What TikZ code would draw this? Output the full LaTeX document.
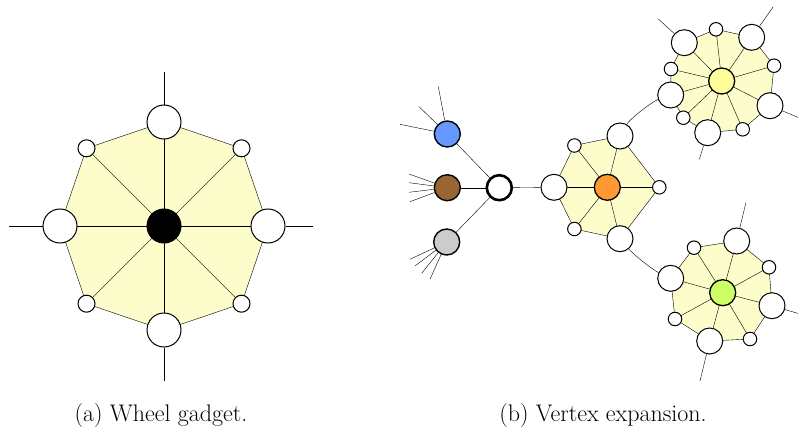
\documentclass[tikz,border=0pt]{standalone}
\pgfdeclarelayer{bg}
\pgfsetlayers{bg,main}
\definecolor{wfill}{RGB}{253,253,204}
\definecolor{nblue}{RGB}{102,153,255}
\definecolor{nbrown}{RGB}{153,102,51}
\definecolor{ngray}{RGB}{204,204,204}
\definecolor{norange}{RGB}{255,153,51}
\definecolor{nyellow}{RGB}{255,255,153}
\definecolor{ngreen}{RGB}{204,255,102}
\begin{document}
\begin{tikzpicture}[x=1pt,y=-1pt,line width=1pt,
  v/.style={circle,draw,fill=white,inner sep=0pt,line width=1pt},
  bigA/.style={v,minimum size=34pt},
  smallA/.style={v,minimum size=17pt},
  bigB/.style={v,minimum size=26pt},
  smallB/.style={v,minimum size=13.5pt},
  hub/.style={v,minimum size=26pt,line width=1.3pt},
  leaf/.style={v,minimum size=26pt,line width=1.4pt},
  caption/.style={font=\fontsize{24}{28}\selectfont,anchor=base}]
\useasboundingbox (0,0) rectangle (798,428);

% ---------- (a) wheel gadget ----------
\node[v,fill=black,minimum size=34pt] (c) at (164,226) {};
\node[bigA]   (a1) at (164,122) {};
\node[smallA] (a2) at (241.5,148.3) {};
\node[bigA]   (a3) at (268,226) {};
\node[smallA] (a4) at (241.5,303.7) {};
\node[bigA]   (a5) at (164,330) {};
\node[smallA] (a6) at (86.5,303.7) {};
\node[bigA]   (a7) at (60,226) {};
\node[smallA] (a8) at (86.5,148.3) {};
\coordinate (ta1) at (164,72);
\coordinate (ta3) at (313,226);
\coordinate (ta5) at (164,381);
\coordinate (ta7) at (9,226);
\begin{pgfonlayer}{bg}
\fill[wfill] (a1.center)--(a2.center)--(a3.center)--(a4.center)--(a5.center)--(a6.center)--(a7.center)--(a8.center)--cycle;
\draw (a1.center)--(a2.center)--(a3.center)--(a4.center)--(a5.center)--(a6.center)--(a7.center)--(a8.center)--cycle;
\foreach \i in {1,...,8} \draw (c.center)--(a\i.center);
\foreach \i in {1,3,5,7} \draw (a\i)--(ta\i);
\end{pgfonlayer}

% ---------- (b) vertex expansion ----------
\node[v,line width=2.6pt,minimum size=25pt] (w) at (499.3,187.7) {};
\node[leaf,fill=nblue]  (nb) at (447.3,134) {};
\node[leaf,fill=nbrown] (nr) at (447.3,187.7) {};
\node[leaf,fill=ngray]  (ng) at (446.7,242) {};
\coordinate (b1) at (438.3,86.7);
\coordinate (b2) at (419,106.7);
\coordinate (b3) at (400,124.3);
\coordinate (r1) at (409,174);
\coordinate (r2) at (409,182.7);
\coordinate (r3) at (409,192.3);
\coordinate (r4) at (410,201.7);
\coordinate (g1) at (410,259.3);
\coordinate (g2) at (415,266);
\coordinate (g3) at (421.7,273.3);
\coordinate (g4) at (430,279.3);

% orange wheel
\node[hub,fill=norange] (o) at (607.3,187.3) {};
\node[bigB]   (o1) at (554,187.3) {};
\node[smallB] (o2) at (574.4,145.5) {};
\node[bigB]   (o3) at (620,136) {};
\node[smallB] (o4) at (659.3,187.3) {};
\node[bigB]   (o5) at (620,238.7) {};
\node[smallB] (o6) at (574.4,229) {};

% yellow wheel
\node[hub,fill=nyellow] (y) at (721.7,81) {};
\node[bigB]   (y1) at (684.3,42.7) {};
\node[smallB] (y2) at (716,29.3) {};
\node[bigB]   (y3) at (751.7,37.3) {};
\node[smallB] (y4) at (774,65.7) {};
\node[bigB]   (y5) at (770,105.7) {};
\node[smallB] (y6) at (742.7,129.3) {};
\node[bigB]   (y7) at (707.7,132.7) {};
\node[smallB] (y8) at (683.3,117.7) {};
\node[bigB]   (y9) at (670.7,95) {};
\node[smallB] (y10) at (671,69) {};
\coordinate (ty1) at (658.3,19);
\coordinate (ty3) at (773.3,6.7);
\coordinate (ty5) at (800,118.2);
\coordinate (ty7) at (699.3,159.3);

% green wheel
\node[hub,fill=ngreen] (g) at (722.7,292.7) {};
\node[bigB]   (e1) at (736.7,241) {};
\node[smallB] (e2) at (769,267.3) {};
\node[bigB]   (e3) at (772,305.7) {};
\node[smallB] (e4) at (750,339) {};
\node[bigB]   (e5) at (709.7,341) {};
\node[smallB] (e6) at (675,319) {};
\node[bigB]   (e7) at (670.7,278.3) {};
\node[smallB] (e8) at (694,247.7) {};
\coordinate (te1) at (746,202.3);
\coordinate (te3) at (800,314);
\coordinate (te5) at (700,381);

\begin{pgfonlayer}{bg}
\foreach \i in {1,2,3} \draw (nb)--(b\i);
\foreach \i in {1,2,3,4} \draw (nr)--(r\i);
\foreach \i in {1,2,3,4} \draw (ng)--(g\i);
\draw (w)--(nb); \draw (w)--(nr); \draw (w)--(ng); \draw (w)--(o1);
% orange
\fill[wfill] (o1.center)--(o2.center)--(o3.center)--(o4.center)--(o5.center)--(o6.center)--cycle;
\draw (o1.center)--(o2.center)--(o3.center)--(o4.center)--(o5.center)--(o6.center)--cycle;
\foreach \i in {1,...,6} \draw (o.center)--(o\i.center);
% yellow
\fill[wfill] (y1.center)--(y2.center)--(y3.center)--(y4.center)--(y5.center)--(y6.center)--(y7.center)--(y8.center)--(y9.center)--(y10.center)--cycle;
\draw (y1.center)--(y2.center)--(y3.center)--(y4.center)--(y5.center)--(y6.center)--(y7.center)--(y8.center)--(y9.center)--(y10.center)--cycle;
\foreach \i in {1,...,10} \draw (y.center)--(y\i.center);
\foreach \i in {1,3,5,7} \draw (y\i)--(ty\i);
% green
\fill[wfill] (e1.center)--(e2.center)--(e3.center)--(e4.center)--(e5.center)--(e6.center)--(e7.center)--(e8.center)--cycle;
\draw (e1.center)--(e2.center)--(e3.center)--(e4.center)--(e5.center)--(e6.center)--(e7.center)--(e8.center)--cycle;
\foreach \i in {1,...,8} \draw (g.center)--(e\i.center);
\foreach \i in {1,3,5} \draw (e\i)--(te\i);
% connecting arcs
\draw (o3) .. controls (630,118.7) and (651.9,101.8) .. (y9);
\draw (o5) .. controls (632.9,254) and (652.6,269.8) .. (e7);
\end{pgfonlayer}

% captions
\node[caption] (capa) at (161,421) {(a) Wheel gadget.};
\node[caption] (capb) at (603,421) {(b) Vertex expansion.};
\end{tikzpicture}
\end{document}
